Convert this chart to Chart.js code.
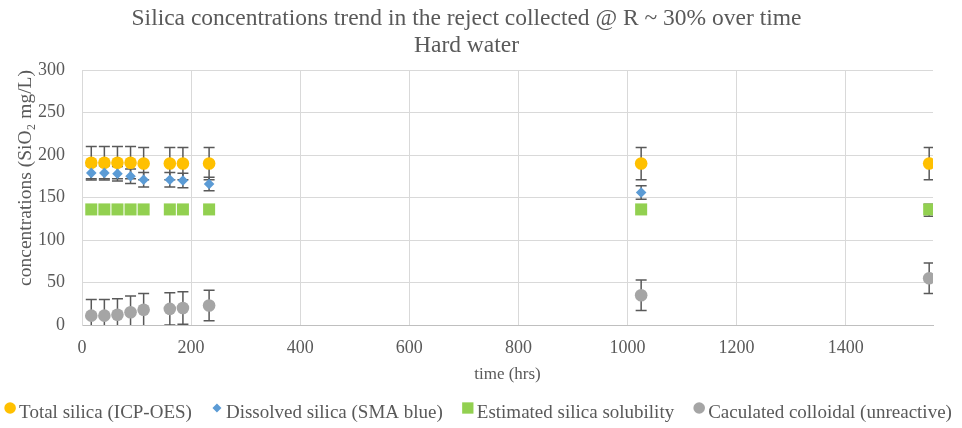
<!DOCTYPE html>
<html>
<head>
<meta charset="utf-8">
<script src="https://cdn.jsdelivr.net/npm/chart.js@4.4.1/dist/chart.umd.min.js"></script>
<style>
  html, body { margin: 0; padding: 0; background: #ffffff; }
  #wrap { width: 962px; height: 428px; }
</style>
</head>
<body>
<div id="wrap"><canvas id="chart" width="962" height="428"></canvas></div>
<script>
// Sampling times (hrs)
const hours = [17, 41, 65, 89, 113, 161, 185, 233, 1025, 1553];

// Silica concentrations (SiO2 mg/L) and their error bar half-widths
const totalSilica     = [191, 191, 191, 191, 190, 190, 190, 190, 190, 190];
const totalErr        = [19, 19, 19, 19, 19, 19, 19, 19, 19, 19];
const dissolvedSilica = [179, 179, 178, 175, 171, 171, 170, 166, 156, 135];
const dissolvedErr    = [8.5, 8.5, 8.5, 8.5, 8.5, 8.5, 8.5, 8, 8, 7];
const solubility      = [136, 136, 136, 136, 136, 136, 136, 136, 136, 136];
const colloidal       = [11, 11, 12, 15, 18, 19, 20, 23, 35, 55];
const colloidalErr    = [19, 19, 19, 19, 19, 19, 19, 18, 18, 18];

// Axis tick labels
const xTickLabels = [0, 200, 400, 600, 800, 1000, 1200, 1400];
const yTickLabels = [0, 50, 100, 150, 200, 250, 300];

const SERIF = "'Liberation Serif', 'Times New Roman', 'DejaVu Serif', serif";
const TEXT = '#595959';
const GRID = '#d9d9d9';

const toPoints = (xs, ys) => xs.map((x, i) => ({ x: x, y: ys[i] }));

// Vertical error bars with caps, drawn underneath the markers
const errorBars = {
  id: 'errorBars',
  beforeDatasetsDraw(chart) {
    const { ctx, chartArea, scales: { x, y } } = chart;
    ctx.save();
    ctx.beginPath();
    ctx.rect(chartArea.left, chartArea.top, chartArea.right - chartArea.left, chartArea.bottom - chartArea.top);
    ctx.clip();
    ctx.strokeStyle = TEXT;
    ctx.lineWidth = 1.5;
    chart.data.datasets.forEach((ds) => {
      if (!ds.errors) return;
      ds.data.forEach((p, j) => {
        const e = ds.errors[j];
        const px = x.getPixelForValue(p.x);
        const top = y.getPixelForValue(p.y + e);
        const bot = y.getPixelForValue(p.y - e);
        const cap = 5.5;
        ctx.beginPath();
        ctx.moveTo(px, top); ctx.lineTo(px, bot);
        ctx.moveTo(px - cap, top); ctx.lineTo(px + cap, top);
        ctx.moveTo(px - cap, bot); ctx.lineTo(px + cap, bot);
        ctx.stroke();
      });
    });
    ctx.restore();
  }
};

function drawMarker(ctx, style, r, x, y, color) {
  ctx.fillStyle = color;
  ctx.beginPath();
  if (style === 'circle') {
    ctx.arc(x, y, r, 0, Math.PI * 2);
  } else if (style === 'rectRot') {
    ctx.moveTo(x, y - r); ctx.lineTo(x + r, y); ctx.lineTo(x, y + r); ctx.lineTo(x - r, y);
    ctx.closePath();
  } else {
    const s = r * Math.SQRT1_2;
    ctx.rect(x - s, y - s, 2 * s, 2 * s);
  }
  ctx.fill();
}

// Single-row legend along the bottom edge
const bottomLegend = {
  id: 'bottomLegend',
  afterDraw(chart) {
    const ctx = chart.ctx;
    ctx.save();
    ctx.font = '19px ' + SERIF;
    ctx.textBaseline = 'middle';
    ctx.textAlign = 'left';
    const markerGap = 9, itemGap = 25;
    const items = chart.data.datasets.map(ds => ({ ds, w: ctx.measureText(ds.label).width }));
    const total = items.reduce((s, it) => s + markerGap + it.w, 0) + itemGap * (items.length - 1);
    let x = chart.width / 2 - total / 2;
    items.forEach((it) => {
      drawMarker(ctx, it.ds.pointStyle, it.ds.legendRadius, x, 408, it.ds.backgroundColor);
      ctx.fillStyle = TEXT;
      ctx.fillText(it.ds.label, x + markerGap, 413);
      x += markerGap + it.w + itemGap;
    });
    ctx.restore();
  }
};

Chart.defaults.font.family = SERIF;
Chart.defaults.font.size = 18;
Chart.defaults.color = TEXT;

new Chart(document.getElementById('chart'), {
  type: 'scatter',
  data: {
    datasets: [
      {
        label: 'Total silica (ICP-OES)',
        data: toPoints(hours, totalSilica),
        errors: totalErr,
        backgroundColor: '#FFC000',
        pointStyle: 'circle',
        pointRadius: 6.3,
        legendRadius: 5.8,
        pointBorderWidth: 0,
        order: 4
      },
      {
        label: 'Dissolved silica (SMA blue)',
        data: toPoints(hours, dissolvedSilica),
        errors: dissolvedErr,
        backgroundColor: '#5B9BD5',
        pointStyle: 'rectRot',
        pointRadius: 5.3,
        legendRadius: 4.5,
        pointBorderWidth: 0,
        order: 3
      },
      {
        label: 'Estimated silica solubility',
        data: toPoints(hours, solubility),
        backgroundColor: '#92D050',
        pointStyle: 'rect',
        pointRadius: 8.5,
        legendRadius: 8,
        pointBorderWidth: 0,
        order: 2
      },
      {
        label: 'Caculated colloidal (unreactive)',
        data: toPoints(hours, colloidal),
        errors: colloidalErr,
        backgroundColor: '#A5A5A5',
        pointStyle: 'circle',
        pointRadius: 6.3,
        legendRadius: 5.8,
        pointBorderWidth: 0,
        order: 1
      }
    ]
  },
  options: {
    responsive: false,
    animation: false,
    events: [],
    layout: { padding: { top: 0, left: 0, right: 29, bottom: 38 } },
    plugins: {
      legend: { display: false },
      tooltip: { enabled: false },
      title: {
        display: true,
        text: ['Silica concentrations trend in the reject collected @ R ~ 30% over time', 'Hard water'],
        color: TEXT,
        font: { family: SERIF, size: 23.5, weight: 'normal', lineHeight: 1.15 },
        padding: { top: 5, bottom: 11 }
      }
    },
    scales: {
      x: {
        type: 'linear',
        position: 'bottom',
        min: 0,
        max: 1560,
        afterBuildTicks(scale) { scale.ticks = xTickLabels.map(v => ({ value: v })); },
        afterFit(scale) { scale.height = 65; },
        grid: { drawTicks: false, color: GRID },
        border: { color: '#bfbfbf', width: 1 },
        ticks: {
          autoSkip: false,
          maxRotation: 0,
          padding: 12,
          font: { size: 18 },
          callback: (v) => String(v)
        },
        title: {
          display: true,
          text: 'time (hrs)',
          font: { size: 17 },
          padding: { top: 0, bottom: 5 }
        }
      },
      y: {
        min: 0,
        max: 300,
        afterBuildTicks(scale) { scale.ticks = yTickLabels.map(v => ({ value: v })); },
        afterFit(scale) { scale.width = 82; },
        grid: { drawTicks: false, color: GRID },
        border: { color: GRID, width: 1 },
        ticks: {
          padding: 17,
          font: { size: 18 },
          callback: (v) => String(v)
        },
        title: {
          display: true,
          text: 'concentrations (SiO\u2082 mg/L)',
          align: 'end',
          font: { size: 19.5 },
          padding: { top: 14, bottom: 0 }
        }
      }
    }
  },
  plugins: [errorBars, bottomLegend]
});
</script>
</body>
</html>
